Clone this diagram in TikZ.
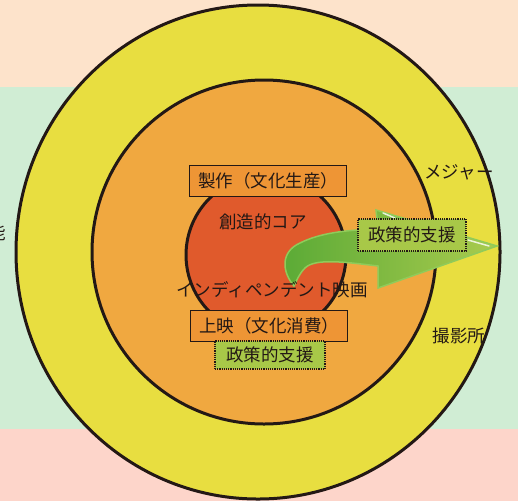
\documentclass[tikz,border=0pt]{standalone}
\usepackage{fontspec}
\setmainfont{Noto Sans CJK JP}
\definecolor{bandtop}{HTML}{FDE3CB}
\definecolor{bandmid}{HTML}{D0EDD4}
\definecolor{bandbot}{HTML}{FDD5CA}
\definecolor{ringyellow}{HTML}{E8DE40}
\definecolor{ringorange}{HTML}{F0A840}
\definecolor{corered}{HTML}{E05A2C}
\definecolor{boxorange}{HTML}{EE9535}
\definecolor{aidgreen}{HTML}{A8C848}
\definecolor{arrowdark}{HTML}{5AAA36}
\definecolor{arrowlight}{HTML}{AACB4E}
\definecolor{arrowedge}{HTML}{8FCB5A}
\definecolor{ink}{HTML}{231815}
\newcommand{\jpsize}{\fontsize{17.5}{20}\selectfont}
\begin{document}
\begin{tikzpicture}[x=1pt,y=-1pt,
  ring/.style={draw=ink, line width=3pt},
  txt/.style={font=\jpsize, text=ink, inner sep=0pt},
  labelbox/.style={txt, draw=ink, line width=1.2pt, fill=boxorange, minimum width=157pt, minimum height=31pt},
  aidbox/.style={txt, draw=ink, densely dotted, line width=1.2pt, fill=aidgreen}]
\useasboundingbox (0,0) rectangle (518,501);
\clip (0,0) rectangle (518,501);
% background bands
\fill[bandtop] (0,0) rectangle (518,87);
\fill[bandmid] (0,87) rectangle (518,429);
\fill[bandbot] (0,429) rectangle (518,501);
% rings
\filldraw[ring, fill=ringyellow] (258,252) ellipse [x radius=242, y radius=247];
\filldraw[ring, fill=ringorange] (264,252) ellipse [x radius=172, y radius=172];
\filldraw[ring, fill=corered] (266,255) ellipse [x radius=80, y radius=80];
% curved arrow
\path[draw=arrowedge, line width=1.5pt, left color=arrowdark, right color=arrowlight]
  (294,286) .. controls (282,272) and (280,252) .. (300,243)
  .. controls (320,233) and (345,230) .. (378,229)
  -- (376,210) -- (497,246) -- (378,288) -- (378,266)
  .. controls (345,262) and (315,258) .. (305,268)
  .. controls (299,274) and (297,280) .. (294,286) -- cycle;
\draw[white, opacity=0.8, line width=1.5pt, line cap=round] (383,213) -- (395,218);
\draw[white, opacity=0.8, line width=1.5pt, line cap=round] (468,240) -- (489,246);
% texts
\node[txt] (core) at (263,222) {創造的コア};
\node[txt] (indie) at (272,290) {インディペンデント映画};
\node[txt] (major) at (459,172) {メジャー};
\node[txt] (studio) at (459,336) {撮影所};
\node[txt] (edge) at (-3,233) {能};
% boxes
\node[labelbox] (prod) at (268,181) {製作（文化生産）};
\node[labelbox] (scr) at (269,326) {上映（文化消費）};
\node[aidbox, minimum width=110pt, minimum height=28pt] (aidlow) at (270,355) {政策的支援};
\node[aidbox, minimum width=108pt, minimum height=32pt] (aidup) at (412,235) {政策的支援};
\end{tikzpicture}
\end{document}
